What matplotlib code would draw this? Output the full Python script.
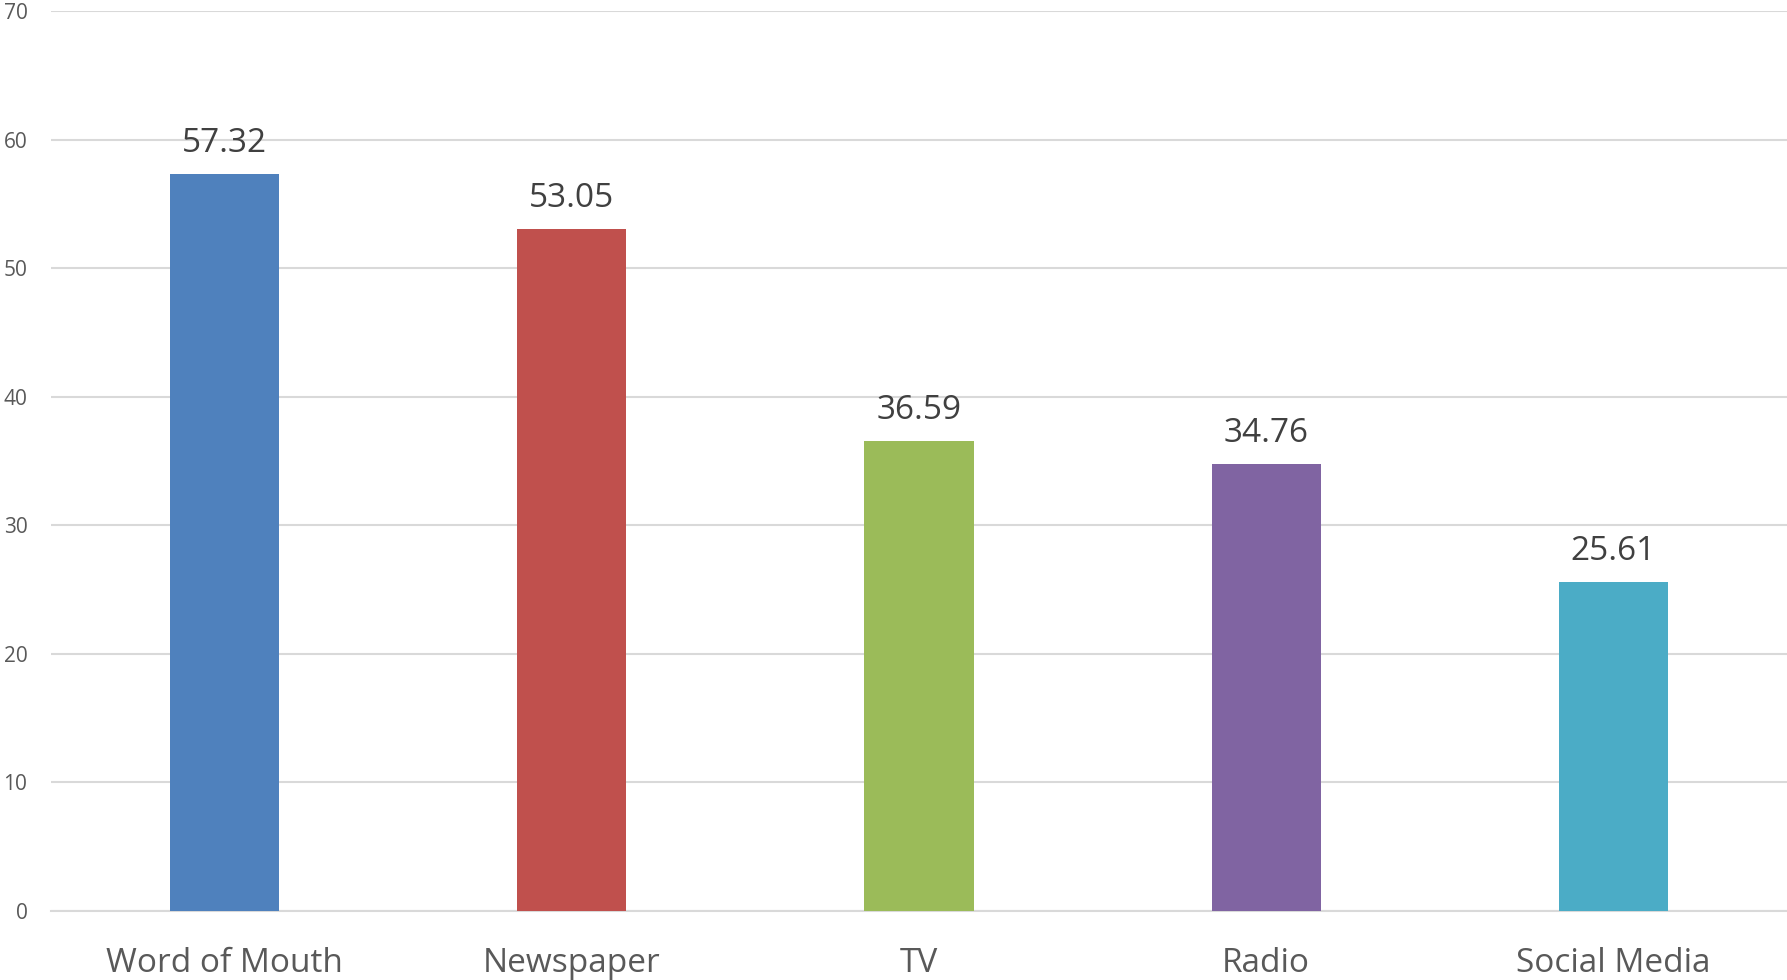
import matplotlib
matplotlib.use("Agg")
import matplotlib.pyplot as plt

# Data
categories = ["Word of Mouth", "Newspaper", "TV", "Radio", "Social Media"]
values = [57.32, 53.05, 36.59, 34.76, 25.61]
colors = ["#4F81BD", "#C0504D", "#9BBB59", "#8064A2", "#4BACC6"]
y_ticks = [0, 10, 20, 30, 40, 50, 60, 70]

plt.rcParams["font.family"] = ["Open Sans", "DejaVu Sans"]

fig = plt.figure(figsize=(17.87, 9.8), dpi=100)
ax = fig.add_axes([51 / 1787, 69 / 980, 1736 / 1787, 900 / 980])

x = list(range(len(categories)))
bars = ax.bar(x, values, width=0.314, color=colors, zorder=3)

# value labels above each bar
for rect, v in zip(bars, values):
    ax.annotate(f"{v:.2f}", (rect.get_x() + rect.get_width() / 2, v),
                xytext=(0, 10), textcoords="offset points",
                ha="center", va="bottom", fontsize=24, color="#404040")

ax.set_xlim(-0.5, len(categories) - 0.5)
ax.set_ylim(0, 70)
ax.set_yticks(y_ticks)
ax.yaxis.grid(True, color="#D9D9D9", linewidth=1.5, zorder=0)
ax.set_axisbelow(True)

ax.set_xticks(x)
ax.set_xticklabels(categories, fontsize=24, color="#595959")
ax.tick_params(axis="x", length=0, pad=26)
ax.tick_params(axis="y", length=0, pad=17, labelsize=15, labelcolor="#595959")

for spine in ["top", "right", "left"]:
    ax.spines[spine].set_visible(False)
ax.spines["bottom"].set_color("#D9D9D9")
ax.spines["bottom"].set_linewidth(1.5)

fig.savefig("out.png", dpi=100)
